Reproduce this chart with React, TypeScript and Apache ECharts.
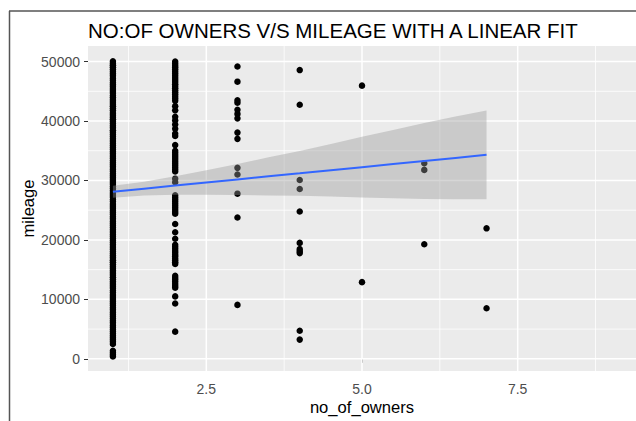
import React, { useEffect, useRef } from "react";
import * as echarts from "echarts";

const TITLE = "NO:OF OWNERS V/S MILEAGE WITH A LINEAR FIT";
const X_NAME = "no_of_owners";
const Y_NAME = "mileage";

const xTickValues = [2.5, 5, 7.5];
const yTickValues = [0, 10000, 20000, 30000, 40000, 50000];
const xMajorGrid = [2.5, 5, 7.5];
const xMinorGrid = [1.25, 3.75, 6.25, 8.75];
const yMajorGrid = [0, 10000, 20000, 30000, 40000, 50000];
const yMinorGrid = [5000, 15000, 25000, 35000, 45000];

const X_MIN = 0.6;
const X_MAX = 9.4;
const Y_MIN = -2050;
const Y_MAX = 52620;

const ownerCounts = [1, 2, 3, 4, 5, 6, 7];

const mileageOwner1 = [
  400, 700, 1000, 1350, 2500, 2850, 3200, 3550, 3900, 4250, 4600, 4950, 5300,
  5650, 6050, 6400, 6800, 7150, 7500, 7850, 8250, 8600, 9000, 9350, 9700,
  10050, 10400, 10750, 11150, 11500, 11900, 12250, 12600, 12950, 13350, 13700,
  14100, 14450, 14800, 15150, 15500, 15850, 16250, 16600, 17000, 17350, 17700,
  18050, 18450, 18800, 19200, 19550, 19900, 20250, 20600, 20950, 21350, 21700,
  22100, 22450, 22800, 23150, 23550, 23900, 24300, 24650, 25000, 25350, 25700,
  26050, 26450, 26800, 27200, 27550, 27900, 28250, 28650, 29000, 29400, 29750,
  30100, 30450, 30800, 31150, 31550, 31900, 32300, 32650, 33000, 33350, 33750,
  34100, 34500, 34850, 35200, 35550, 35900, 36250, 36650, 37000, 37400, 37750,
  38100, 38450, 38850, 39200, 39600, 39950, 40300, 40650, 41000, 41350, 41750,
  42100, 42500, 42850, 43200, 43550, 43950, 44300, 44700, 45050, 45400, 45750,
  46100, 46450, 46850, 47200, 47600, 47950, 48300, 48650, 49050, 49400, 49700,
  50050,
];
const mileageOwner2 = [
  50000, 49650, 49300, 49000, 48650, 48300, 47950, 47600, 47250, 46900, 46550,
  46200, 45850, 45500, 45150, 44800, 44450, 44100, 43750, 43400,
  42500, 41800, 40700, 40100, 39400, 38700, 37900, 37500, 35950,
  35000, 34650, 34300, 33950, 33600, 33250, 32900, 32550, 32200, 31850, 31500,
  30300, 29700,
  27500, 27150, 26800, 26450, 26100, 25750, 25400, 25050, 24700, 24400,
  22670, 21300, 20200,
  19170, 18850, 18500, 18150, 17850, 17500, 17200, 16850, 16550, 16250, 15950,
  13950, 13600, 13300, 12950, 12600, 12250, 11950,
  10500, 9300, 4570,
];
const mileageOwner3 = [
  49170, 46620, 43500, 43070, 41900, 41200, 40450, 38050, 37000, 32120, 31000,
  27780, 23780, 9070,
];
const mileageOwner4 = [
  48570, 42730, 30070, 28570, 24780, 19500, 18450, 18100, 17780, 4730, 3230,
];
const mileageOwner5 = [45950, 12900];
const mileageOwner6 = [32900, 31780, 19280];
const mileageOwner7 = [21950, 8500];
const mileageByOwner = [
  mileageOwner1, mileageOwner2, mileageOwner3, mileageOwner4,
  mileageOwner5, mileageOwner6, mileageOwner7,
];

const fitX = [1, 1.5, 2, 2.5, 3, 3.5, 4, 4.5, 5, 5.5, 6, 6.5, 7];
const fitY = [28100, 28620, 29140, 29650, 30170, 30690, 31200, 31720, 32240, 32760, 33280, 33790, 34310];
const bandUpper = [29100, 29770, 30690, 31700, 32770, 33890, 34950, 36120, 37340, 38510, 39680, 40740, 41760];
const bandLower = [27100, 27470, 27590, 27600, 27570, 27490, 27450, 27320, 27140, 27010, 26880, 26840, 26860];

const FONT = "Liberation Sans, Arial, sans-serif";

function gridLineSeries(values: number[], dim: "x" | "y", width: number) {
  return {
    type: "custom",
    silent: true,
    z: 1,
    clip: true,
    data: values.map((v) => (dim === "x" ? [v, 0] : [1, v])),
    renderItem: (_params: any, api: any) => {
      const v = api.value(dim === "x" ? 0 : 1);
      const p1 = dim === "x" ? api.coord([v, Y_MIN]) : api.coord([X_MIN, v]);
      const p2 = dim === "x" ? api.coord([v, Y_MAX]) : api.coord([X_MAX, v]);
      return {
        type: "line",
        shape: { x1: p1[0], y1: p1[1], x2: p2[0], y2: p2[1] },
        style: { stroke: "#ffffff", lineWidth: width },
      };
    },
  };
}

export default function App() {
  const ref = useRef<HTMLDivElement>(null);

  useEffect(() => {
    if (!ref.current) return;
    const chart = echarts.init(ref.current, undefined, { renderer: "svg" });

    const scatterData: number[][] = [];
    ownerCounts.forEach((o, i) => {
      mileageByOwner[i].forEach((m) => scatterData.push([o, m]));
    });

    const option: any = {
      animation: false,
      backgroundColor: "#ffffff",
      title: {
        text: TITLE,
        left: 88,
        top: 20,
        padding: 0,
        textStyle: { fontSize: 20.5, fontWeight: "normal", color: "#000000", fontFamily: FONT },
      },
      grid: {
        left: 88,
        top: 46,
        width: 550,
        height: 328,
        show: true,
        backgroundColor: "#EBEBEB",
        borderWidth: 0,
      },
      xAxis: {
        type: "value",
        min: X_MIN,
        max: X_MAX,
        splitLine: { show: false },
        axisLine: { show: false },
        axisTick: {
          show: true,
          length: 4,
          customValues: xTickValues,
          lineStyle: { color: "#333333", width: 1 },
        },
        axisLabel: {
          customValues: xTickValues,
          formatter: (v: number) => v.toFixed(1),
          color: "#4D4D4D",
          fontSize: 14,
          fontFamily: FONT,
          margin: 11,
        },
        name: X_NAME,
        nameLocation: "middle",
        nameGap: 28,
        nameMoveOverlap: false,
        nameTextStyle: { fontSize: 16.6, color: "#000000", fontFamily: FONT },
      },
      yAxis: {
        type: "value",
        min: Y_MIN,
        max: Y_MAX,
        splitLine: { show: false },
        axisLine: { show: false },
        axisTick: {
          show: true,
          length: 4,
          customValues: yTickValues,
          lineStyle: { color: "#333333", width: 1 },
        },
        axisLabel: {
          customValues: yTickValues,
          formatter: (v: number) => String(v),
          color: "#4D4D4D",
          fontSize: 14,
          fontFamily: FONT,
          margin: 8,
        },
        name: Y_NAME,
        nameLocation: "middle",
        nameGap: 51,
        nameRotate: 90,
        nameMoveOverlap: false,
        nameTextStyle: { fontSize: 16.6, color: "#000000", fontFamily: FONT },
      },
      graphic: [
        {
          type: "line",
          shape: { x1: 9.5, y1: 11, x2: 9.5, y2: 421 },
          style: { stroke: "#555555", lineWidth: 1.5 },
          z: 100,
        },
        {
          type: "line",
          shape: { x1: 9, y1: 11, x2: 636, y2: 11 },
          style: { stroke: "#555555", lineWidth: 1.5 },
          z: 100,
        },
      ],
      series: [
        gridLineSeries(xMinorGrid, "x", 0.8),
        gridLineSeries(yMinorGrid, "y", 0.8),
        gridLineSeries(xMajorGrid, "x", 1.5),
        gridLineSeries(yMajorGrid, "y", 1.5),
        {
          type: "scatter",
          z: 2,
          symbolSize: 6.5,
          itemStyle: { color: "#000000", borderWidth: 0, opacity: 1 },
          data: scatterData,
          silent: true,
        },
        {
          type: "custom",
          z: 3,
          silent: true,
          data: [[fitX[0], fitY[0]]],
          renderItem: (_params: any, api: any) => {
            const top = fitX.map((x, i) => api.coord([x, bandUpper[i]]));
            const bottom = fitX.map((x, i) => api.coord([x, bandLower[i]])).reverse();
            return {
              type: "polygon",
              shape: { points: top.concat(bottom) },
              style: { fill: "rgba(153,153,153,0.4)" },
            };
          },
        },
        {
          type: "line",
          z: 4,
          silent: true,
          symbol: "none",
          showSymbol: false,
          lineStyle: { color: "#3366FF", width: 2 },
          data: fitX.map((x, i) => [x, fitY[i]]),
        },
      ],
    };

    chart.setOption(option);
    return () => chart.dispose();
  }, []);

  return (
    <div
      ref={ref}
      style={{ position: "fixed", left: 0, top: 0, width: 636, height: 421 }}
    />
  );
}
